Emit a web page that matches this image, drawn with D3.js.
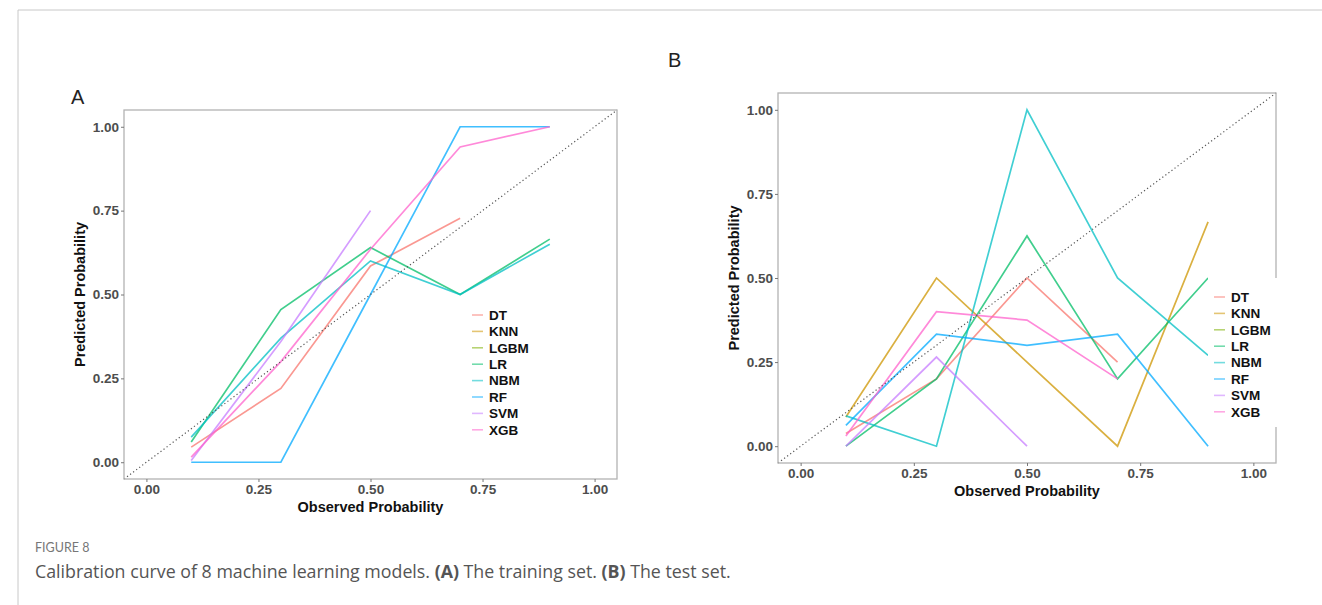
<!DOCTYPE html>
<html>
<head>
<meta charset="utf-8">
<script src="https://cdn.jsdelivr.net/npm/d3@7"></script>
<style>
  body { margin: 0; background: #fff; }
  svg text { font-family: "Liberation Sans", Arial, sans-serif; }
</style>
</head>
<body>
<svg id="viz"></svg>
<script>
const WIDTH = 1322
const HEIGHT = 605

// observed-probability bins, shared by every curve
const BINS = [0.1, 0.3, 0.5, 0.7, 0.9]
const MODELS = ['DT', 'KNN', 'LGBM', 'LR', 'NBM', 'RF', 'SVM', 'XGB']
const TICKS = [0, 0.25, 0.5, 0.75, 1]

// (A) training set, predicted probability per bin (null = no point)
const TRAIN_DT   = [0.045, 0.22, 0.585, 0.727, null]
const TRAIN_KNN  = [null, null, null, null, null]
const TRAIN_LGBM = [null, null, null, null, null]
const TRAIN_LR   = [0.06, 0.455, 0.64, 0.5, 0.665]
const TRAIN_NBM  = [0.075, 0.37, 0.6, 0.5, 0.65]
const TRAIN_RF   = [0, 0, 0.5, 1, 1]
const TRAIN_SVM  = [0.005, 0.36, 0.75, null, null]
const TRAIN_XGB  = [0.015, 0.3, 0.635, 0.94, 1]

// (B) test set
const TEST_DT   = [0.038, 0.2, 0.5, 0.25, null]
const TEST_KNN  = [0.087, 0.5, 0.25, 0, 0.667]
const TEST_LGBM = [null, null, null, null, null]
const TEST_LR   = [0, 0.2, 0.625, 0.2, 0.5]
const TEST_NBM  = [0.09, 0, 1, 0.5, 0.27]
const TEST_RF   = [0.062, 0.333, 0.3, 0.333, 0]
const TEST_SVM  = [0, 0.265, 0, null, null]
const TEST_XGB  = [0.03, 0.4, 0.375, 0.2, null]

const COLORS = ['#F8766D', '#CD9600', '#7CAE00', '#00BE67', '#00BFC4', '#00A9FF', '#C77CFF', '#FF61CC']

const TRAIN = [TRAIN_DT, TRAIN_KNN, TRAIN_LGBM, TRAIN_LR, TRAIN_NBM, TRAIN_RF, TRAIN_SVM, TRAIN_XGB]
const TEST = [TEST_DT, TEST_KNN, TEST_LGBM, TEST_LR, TEST_NBM, TEST_RF, TEST_SVM, TEST_XGB]

const svg = d3.select('#viz')
    .attr('width', WIDTH)
    .attr('height', HEIGHT)

// figure border (top + left rule)
svg.append('path')
    .attr('d', `M18,${HEIGHT} L18,10 L${WIDTH},10`)
    .attr('fill', 'none')
    .attr('stroke', '#c8c8c8')
    .attr('stroke-width', 1)

function toSeries(values) {
    return BINS.map((b, i) => ({ x: b, y: values[i] })).filter(d => d.y !== null)
}

function drawPanel(opts) {
    const { left, right, top, bottom, rows, letter, letterPos, legend } = opts
    const x = d3.scaleLinear().domain([-0.05, 1.05]).range([left, right])
    const y = d3.scaleLinear().domain([-0.05, 1.05]).range([bottom, top])
    const g = svg.append('g')

    g.append('text')
        .attr('x', letterPos[0])
        .attr('y', letterPos[1])
        .attr('font-size', 20)
        .attr('fill', '#222')
        .text(letter)

    g.append('rect')
        .attr('x', left)
        .attr('y', top)
        .attr('width', right - left)
        .attr('height', bottom - top)
        .attr('fill', '#fff')

    const line = d3.line().x(d => x(d.x)).y(d => y(d.y))
    rows.forEach((vals, i) => {
        const pts = toSeries(vals)
        if (pts.length < 2) return
        g.append('path')
            .datum(pts)
            .attr('d', line)
            .attr('fill', 'none')
            .attr('stroke', COLORS[i])
            .attr('stroke-opacity', 0.75)
            .attr('stroke-width', 1.7)
    })

    g.append('line')
        .attr('x1', x(-0.05)).attr('y1', y(-0.05))
        .attr('x2', x(1.05)).attr('y2', y(1.05))
        .attr('stroke', '#555')
        .attr('stroke-width', 1.2)
        .attr('stroke-dasharray', '1.2,2.6')

    g.append('rect')
        .attr('x', left)
        .attr('y', top)
        .attr('width', right - left)
        .attr('height', bottom - top)
        .attr('fill', 'none')
        .attr('stroke', '#b3b3b3')
        .attr('stroke-width', 1.3)

    const xAxis = g.append('g')
        .attr('transform', `translate(0,${bottom})`)
        .call(d3.axisBottom(x).tickValues(TICKS).tickFormat(d3.format('.2f')).tickSize(3).tickPadding(2))
    const yAxis = g.append('g')
        .attr('transform', `translate(${left},0)`)
        .call(d3.axisLeft(y).tickValues(TICKS).tickFormat(d3.format('.2f')).tickSize(3).tickPadding(2))
    for (const ax of [xAxis, yAxis]) {
        ax.select('.domain').remove()
        ax.selectAll('.tick line').attr('stroke', '#777')
        ax.selectAll('.tick text')
            .attr('fill', '#4d4d4d')
            .attr('font-size', 13.5)
            .attr('font-weight', 'bold')
            .style('font-family', '"Liberation Sans", Arial, sans-serif')
    }

    g.append('text')
        .attr('x', (left + right) / 2)
        .attr('y', bottom + 33)
        .attr('text-anchor', 'middle')
        .attr('font-size', 14.5)
        .attr('font-weight', 'bold')
        .attr('fill', '#111')
        .text('Observed Probability')

    g.append('text')
        .attr('transform', `translate(${left - 39},${(top + bottom) / 2}) rotate(-90)`)
        .attr('text-anchor', 'middle')
        .attr('font-size', 14.5)
        .attr('font-weight', 'bold')
        .attr('fill', '#111')
        .text('Predicted Probability')

    // legend
    const lg = g.append('g').attr('transform', `translate(${legend.x},${legend.y})`)
    if (legend.box) {
        lg.append('rect')
            .attr('x', legend.box[0])
            .attr('y', legend.box[1])
            .attr('width', legend.box[2])
            .attr('height', legend.box[3])
            .attr('fill', '#fff')
    }
    MODELS.forEach((m, i) => {
        const row = lg.append('g').attr('transform', `translate(0,${i * 16.4})`)
        row.append('line')
            .attr('x1', 0).attr('x2', 11)
            .attr('stroke', COLORS[i])
            .attr('stroke-opacity', 0.55)
            .attr('stroke-width', 1.6)
        row.append('text')
            .attr('x', 17)
            .attr('dy', '0.35em')
            .attr('font-size', 13.5)
            .attr('font-weight', 'bold')
            .attr('fill', '#111')
            .text(m)
    })
}

drawPanel({
    left: 124, right: 617, top: 110, bottom: 479,
    rows: TRAIN,
    letter: 'A', letterPos: [71, 104],
    legend: { x: 472, y: 315 }
})

drawPanel({
    left: 778, right: 1276, top: 93, bottom: 463,
    rows: TEST,
    letter: 'B', letterPos: [668, 67],
    legend: { x: 1214, y: 297, box: [-6, -19, 84, 149] }
})

svg.append('text')
    .attr('x', 35)
    .attr('y', 552)
    .attr('font-size', 12.5)
    .attr('fill', '#777')
    .style('font-family', 'Lato, "Open Sans", sans-serif')
    .text('FIGURE 8')

const caption = svg.append('text')
    .attr('x', 35)
    .attr('y', 578)
    .attr('font-size', 17.8)
    .attr('fill', '#555')
    .style('font-family', '"Open Sans", Lato, sans-serif')
caption.append('tspan').text('Calibration curve of 8 machine learning models. ')
caption.append('tspan').attr('font-weight', 'bold').text('(A)')
caption.append('tspan').text(' The training set. ')
caption.append('tspan').attr('font-weight', 'bold').text('(B)')
caption.append('tspan').text(' The test set.')
</script>
</body>
</html>
